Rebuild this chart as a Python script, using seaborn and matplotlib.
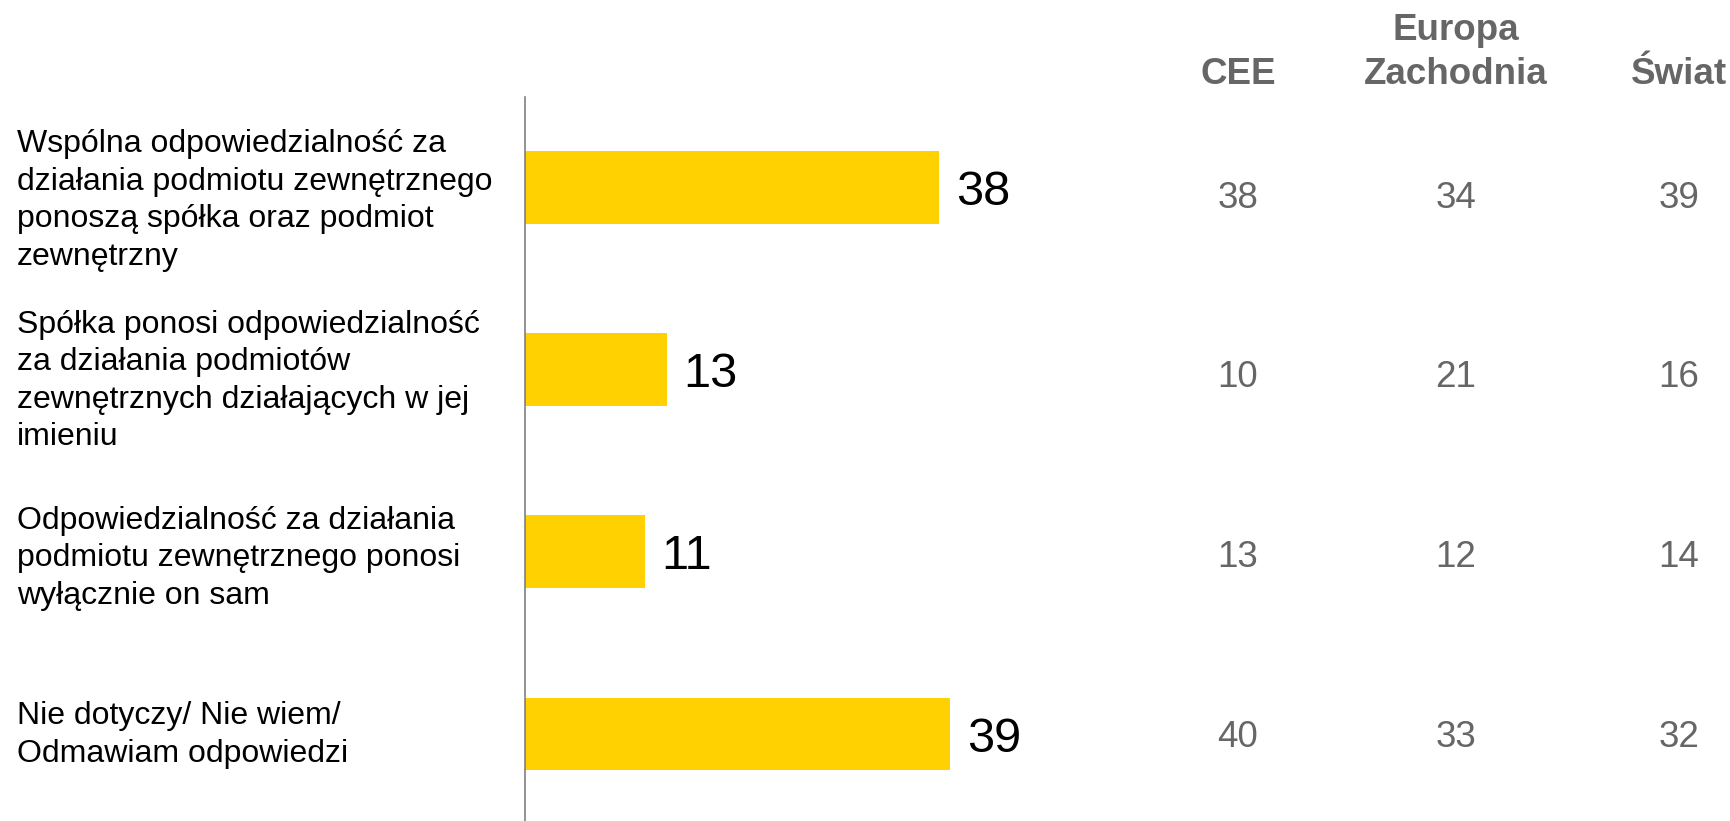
import matplotlib
matplotlib.use("Agg")
import matplotlib.pyplot as plt
import matplotlib.transforms as mtransforms
import pandas as pd
import seaborn as sns

# Answer categories (y axis)
categories = [
    "Wspólna odpowiedzialność za\ndziałania podmiotu zewnętrznego\nponoszą spółka oraz podmiot\nzewnętrzny",
    "Spółka ponosi odpowiedzialność\nza działania podmiotów\nzewnętrznych działających w jej\nimieniu",
    "Odpowiedzialność za działania\npodmiotu zewnętrznego ponosi\nwyłącznie on sam",
    "Nie dotyczy/ Nie wiem/\nOdmawiam odpowiedzi",
]
# Main series (bars), in %
poland = [38, 13, 11, 39]

# Comparison columns
region_headers = ["CEE", "Europa\nZachodnia", "Świat"]
cee = [38, 10, 13, 40]
western_europe = [34, 21, 12, 33]
world = [39, 16, 14, 32]

sns.set_theme(style="white")
plt.rcParams["font.family"] = ["Liberation Sans", "DejaVu Sans"]

W, H = 1730, 821
BAR_COLOR = "#FFD100"
GREY = "#666666"

fig = plt.figure(figsize=(W / 100, H / 100), dpi=100)
fig.patch.set_facecolor("white")
ax_left = 525
ax_top = 97
ax = fig.add_axes([ax_left / W, 0.0, 1 - ax_left / W, 1 - ax_top / H])

df = pd.DataFrame({"label": categories, "value": poland})
sns.barplot(data=df, x="value", y="label", orient="h", color=BAR_COLOR,
            saturation=1, width=0.4, linewidth=0, ax=ax)

px_per_unit = 10.9
ax.set_xlim(0, (W - ax_left) / px_per_unit)
ax.set_ylim(3.477, -0.494)

value_texts = ax.bar_label(ax.containers[0], fmt="%d", padding=12,
                           fontsize=35, color="black")
for t in value_texts:
    t.set_verticalalignment("center_baseline")

for side in ["top", "right", "bottom"]:
    ax.spines[side].set_visible(False)
ax.spines["left"].set_color("#808080")
ax.spines["left"].set_linewidth(1.2)
ax.set_xticks([])
ax.set_xlabel("")
ax.set_ylabel("")
ax.tick_params(axis="y", length=0, labelleft=False)

# Category labels: left-aligned block at the figure's left margin,
# vertically tied to each bar's position on the y axis
label_trans = mtransforms.blended_transform_factory(fig.transFigure, ax.transData)
label_shift_px = [13.5, 11.5, 6.5, 1.0]
for i, (text, shift) in enumerate(zip(categories, label_shift_px)):
    tr = label_trans + mtransforms.ScaledTranslation(0, -shift / 100, fig.dpi_scale_trans)
    ax.text(17 / W, i, text, transform=tr, ha="left", va="center",
            fontsize=23, color="black", linespacing=1.33)

# Comparison columns on the right
col_x = [1238, 1456, 1679]
for x, header, values in zip(col_x, region_headers, [cee, western_europe, world]):
    fig.text(x / W, 1 - 92 / H, header, ha="center", va="bottom",
             fontsize=26.5, fontweight="bold", color=GREY, linespacing=1.33)
    for i, v in enumerate(values):
        ax.text(x / W, 0.04 + i * 0.985, f"{v}", transform=label_trans,
                ha="center", va="center_baseline", fontsize=26.5, color=GREY)

fig.savefig("out.png", dpi=100, facecolor="white")
